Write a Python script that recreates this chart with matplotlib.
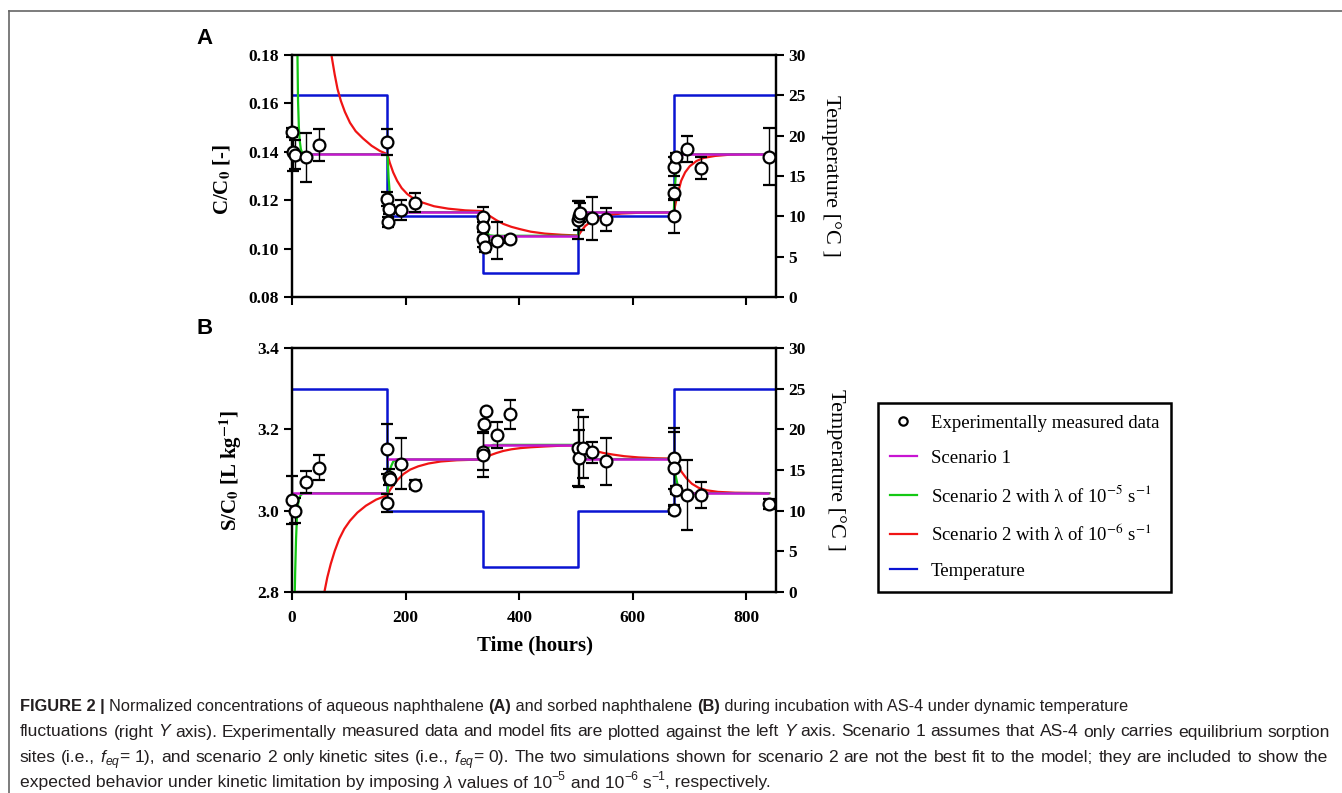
import re
import matplotlib
matplotlib.use('Agg')
import matplotlib.pyplot as plt
from matplotlib.lines import Line2D
from matplotlib.font_manager import FontProperties

plt.rcParams['font.family'] = ['Liberation Serif', 'DejaVu Serif']
plt.rcParams['mathtext.fontset'] = 'stix'

W, H = 1342, 793

# temperature program (right axis, both panels)
temp_t = [0, 168, 336, 504, 672, 852]
temp_c = [25, 10, 3, 10, 25, 25]

# scenario 1 plateaus
s1_start = [0, 168, 336, 504, 672]
s1_end = [168, 336, 504, 672, 840]
a_s1 = [0.139, 0.115, 0.1053, 0.115, 0.139]
b_s1 = [3.043, 3.126, 3.162, 3.127, 3.043]

# ---- panel A: aqueous C/C0, measured
a_t = [0.5, 1.5, 6, 24, 48, 168, 168, 169, 171, 192, 216, 336, 336, 336, 340, 360, 384,
       504, 505, 507, 528, 552, 672, 672, 673, 676, 696, 720, 840]
a_y = [0.148, 0.140, 0.1387, 0.1377, 0.1428, 0.144, 0.1205, 0.1111, 0.1162, 0.116, 0.119,
       0.1132, 0.109, 0.1038, 0.1005, 0.1033, 0.1038, 0.1118, 0.1135, 0.1148, 0.1125, 0.1121,
       0.1135, 0.1231, 0.1338, 0.1377, 0.1412, 0.1334, 0.138]
a_err = [0.002, 0.008, 0.006, 0.010, 0.0066, 0.0055, 0.003, 0.002, 0.002, 0.004, 0.004,
         0.004, 0.002, 0.003, 0.002, 0.0077, 0.0015, 0.008, 0.006, 0.004, 0.009, 0.0048,
         0.007, 0.003, 0.004, 0.002, 0.0053, 0.0045, 0.0117]

# panel A, scenario 2 with lambda 1e-5 (green)
a_g_t = [8.5, 9.5, 10.5, 12, 13.5, 15.5, 18, 24, 168,
         170, 172, 175, 179, 185, 336,
         338, 341, 344, 348, 355, 504,
         505.5, 507, 509, 512, 672,
         674, 676, 678, 681, 688, 840]
a_g_y = [0.19, 0.18, 0.161, 0.150, 0.1445, 0.141, 0.1395, 0.139, 0.139,
         0.129, 0.123, 0.119, 0.1157, 0.1151, 0.115,
         0.111, 0.108, 0.1063, 0.1055, 0.1053, 0.1053,
         0.110, 0.1128, 0.1143, 0.115, 0.115,
         0.125, 0.132, 0.1365, 0.1385, 0.139, 0.139]

# panel A, scenario 2 with lambda 1e-6 (red)
a_r_t = [66, 70, 75, 80, 86, 93, 102, 112, 125, 140, 155, 168,
         172, 178, 185, 193, 203, 215, 230, 250, 275, 305, 336,
         342, 350, 360, 372, 386, 402, 420, 445, 475, 504,
         510, 516, 524, 534, 546, 560, 580, 610, 672,
         676, 680, 685, 692, 700, 712, 725, 745, 770, 800, 840]
a_r_y = [0.186, 0.179, 0.172, 0.166, 0.161, 0.1565, 0.152, 0.1485, 0.1455, 0.1425, 0.1403, 0.139,
         0.1355, 0.1315, 0.128, 0.125, 0.1225, 0.1205, 0.119, 0.1175, 0.1165, 0.1158, 0.1155,
         0.1145, 0.1132, 0.1117, 0.1102, 0.109, 0.108, 0.107, 0.1062, 0.1057, 0.1054,
         0.1075, 0.1093, 0.1108, 0.112, 0.1132, 0.114, 0.1145, 0.1148, 0.115,
         0.1195, 0.1235, 0.128, 0.1315, 0.134, 0.1362, 0.1375, 0.1383, 0.1388, 0.139, 0.139]

# ---- panel B: sorbed S/C0, measured
b_t = [0.5, 6, 24, 48, 168, 171, 173, 168, 192, 216, 336, 338, 342, 337, 360, 384,
       504, 505, 512, 528, 552, 672, 673, 676, 672, 696, 720, 840]
b_y = [3.026, 3.000, 3.071, 3.106, 3.151, 3.0835, 3.078, 3.018, 3.115, 3.064, 3.145, 3.2135,
       3.246, 3.138, 3.186, 3.237, 3.1535, 3.129, 3.155, 3.144, 3.122, 3.129, 3.104, 3.051,
       3.002, 3.038, 3.038, 3.0155]
b_err = [0.058, 0.03, 0.027, 0.031, 0.062, 0.02, 0.01, 0.022, 0.063, 0.012, 0.045, 0.0,
         0.0, 0.055, 0.033, 0.035, 0.094, 0.07, 0.075, 0.026, 0.058, 0.075, 0.09, 0.01,
         0.01, 0.086, 0.032, 0.012]

b_g_t = [4.5, 5.5, 7, 8.5, 10, 12, 15, 20, 168,
         170, 172, 174, 178, 184, 336,
         338, 341, 346, 354, 504,
         507, 510, 513, 518, 672,
         674, 677, 680, 685, 692, 840]
b_g_y = [2.78, 2.85, 2.93, 2.98, 3.01, 3.028, 3.038, 3.043, 3.043,
         3.075, 3.097, 3.108, 3.1205, 3.126, 3.126,
         3.137, 3.147, 3.157, 3.162, 3.162,
         3.15, 3.14, 3.131, 3.127, 3.127,
         3.095, 3.075, 3.055, 3.045, 3.043, 3.043]

b_r_t = [55, 57, 62, 68, 75, 83, 92, 102, 115, 130, 148, 168,
         172, 178, 186, 196, 208, 222, 240, 262, 290, 336,
         342, 350, 360, 372, 386, 402, 420, 445, 475, 504,
         512, 522, 534, 548, 565, 585, 610, 640, 672,
         676, 680, 686, 694, 704, 716, 730, 750, 780, 840]
b_r_y = [2.79, 2.80, 2.835, 2.868, 2.90, 2.93, 2.955, 2.975, 2.995, 3.012, 3.027, 3.038,
         3.050, 3.062, 3.076, 3.090, 3.101, 3.109, 3.116, 3.121, 3.124, 3.126,
         3.131, 3.137, 3.142, 3.147, 3.151, 3.154, 3.156, 3.158, 3.160, 3.161,
         3.157, 3.152, 3.147, 3.142, 3.138, 3.134, 3.131, 3.129, 3.128,
         3.120, 3.108, 3.095, 3.080, 3.066, 3.056, 3.050, 3.046, 3.044, 3.043]

BLUE = '#0a14d2'
MAGENTA = '#c814d2'
GREEN = '#14c814'
RED = '#f01414'

fig = plt.figure(figsize=(W / 100, H / 100), dpi=100)

ax_left = 291.5 / W
ax_w = (776 - 291.5) / W
axA = fig.add_axes([ax_left, 1 - 297 / H, ax_w, (297 - 55) / H])
axB = fig.add_axes([ax_left, 1 - 591.7 / H, ax_w, (591.7 - 348.3) / H])

tick_font = FontProperties(family='Liberation Serif', weight='bold', size=12.5)


def draw_panel(ax, t, y, err, g_t, g_y, r_t, r_y, s1, ylim, yticks, fmt):
    tw = ax.twinx()
    tw.plot(temp_t, temp_c, drawstyle='steps-post', color=BLUE, lw=1.8)
    tw.set_ylim(0, 30)
    tw.set_yticks(range(0, 31, 5))
    ax.set_zorder(tw.get_zorder() + 1)
    ax.patch.set_visible(False)

    ax.plot(r_t, r_y, color=RED, lw=1.6, zorder=2)
    ax.plot(g_t, g_y, color=GREEN, lw=1.6, zorder=2)
    ax.hlines(s1, s1_start, s1_end, color=MAGENTA, lw=1.8, zorder=3)
    ax.errorbar(t, y, yerr=err, fmt='o', ms=8.5, mfc='white', mec='black', mew=1.6,
                ecolor='black', elinewidth=1.0, capsize=4, capthick=1.0, zorder=5,
                clip_on=False)

    ax.set_xlim(-1, 852)
    ax.set_ylim(*ylim)
    ax.set_yticks(yticks)
    ax.set_yticklabels([fmt % v for v in yticks])
    ax.set_xticks([0, 200, 400, 600, 800])
    for a in (ax, tw):
        for sp in a.spines.values():
            sp.set_linewidth(1.6)
        a.tick_params(direction='out', length=6, width=1.5, pad=3)
        for lbl in a.get_yticklabels() + a.get_xticklabels():
            lbl.set_fontproperties(tick_font)
    ax.tick_params(axis='x', pad=7)
    return tw


draw_panel(axA, a_t, a_y, a_err, a_g_t, a_g_y, a_r_t, a_r_y, a_s1,
           (0.08, 0.18), [0.08, 0.10, 0.12, 0.14, 0.16, 0.18], '%.2f')
axA.tick_params(axis='x', labelbottom=False)
draw_panel(axB, b_t, b_y, b_err, b_g_t, b_g_y, b_r_t, b_r_y, b_s1,
           (2.8, 3.4), [2.8, 3.0, 3.2, 3.4], '%.1f')

# axis labels
lab_bold = dict(family='Liberation Serif', weight='bold', size=15)
fig.text(223 / W, 1 - 179 / H, r'C/C$_\mathbf{0}$ [-]', rotation=90, ha='center', va='center', **lab_bold)
fig.text(231 / W, 1 - 470 / H, r'S/C$_\mathbf{0}$ [L kg$^{\mathbf{-1}}$]', rotation=90,
         ha='center', va='center', **lab_bold)
fig.text(831 / W, 1 - 176 / H, 'Temperature [°C ]', rotation=-90, ha='center', va='center',
         family='Liberation Serif', size=16)
fig.text(836 / W, 1 - 470 / H, 'Temperature [°C ]', rotation=-90, ha='center', va='center',
         family='Liberation Serif', size=16)
fig.text(535 / W, 1 - 645 / H, 'Time (hours)', ha='center', va='center', **lab_bold)

fig.text(196 / W, 1 - 38 / H, 'A', ha='left', va='center', family='Liberation Sans',
         weight='bold', size=16)
fig.text(196 / W, 1 - 328 / H, 'B', ha='left', va='center', family='Liberation Sans',
         weight='bold', size=16)

# legend
handles = [Line2D([], [], ls='none', marker='o', ms=6, mfc='white', mec='black', mew=1.6),
           Line2D([], [], color=MAGENTA, lw=1.6),
           Line2D([], [], color=GREEN, lw=1.6),
           Line2D([], [], color=RED, lw=1.6),
           Line2D([], [], color=BLUE, lw=1.6)]
labels = ['Experimentally measured data', 'Scenario 1',
          'Scenario 2 with λ of 10$^{-5}$ s$^{-1}$',
          'Scenario 2 with λ of 10$^{-6}$ s$^{-1}$', 'Temperature']
leg = fig.legend(handles, labels, loc='upper left', bbox_to_anchor=(878 / W, 1 - 403 / H),
                 borderaxespad=0, frameon=True, fancybox=False, edgecolor='black',
                 framealpha=1, borderpad=0.62, labelspacing=0.95, handlelength=1.45,
                 handletextpad=0.75, prop=FontProperties(family='Liberation Serif', size=13.5))
leg.get_frame().set_linewidth(1.8)

# caption
CAP_COLOR = '#231f20'
renderer = fig.canvas.get_renderer()


def advance(s, fp):
    w1 = renderer.get_text_width_height_descent('|' + s + '|', fp, False)[0]
    w2 = renderer.get_text_width_height_descent('||', fp, False)[0]
    return w1 - w2


def caption_line(x, y, runs, size, x_end=None):
    # justified lines are laid out word by word, the others run by run
    tokens = []
    for s, weight, style, kind in runs:
        fs = size * 0.7 if kind != 'n' else size
        dy = 0.0
        if kind == 'sup':
            dy = size * 100 / 72 * 0.4
        elif kind == 'sub':
            dy = -size * 100 / 72 * 0.2
        fp = FontProperties(family='Liberation Sans', size=fs, weight=weight, style=style)
        if x_end is None:
            tokens.append((s, fp, dy))
        else:
            for tok in re.split(r'( )', s):
                if tok:
                    tokens.append((tok, fp, dy))
    extra = 0.0
    if x_end is not None:
        natural = sum(advance(tok, fp) for tok, fp, dy in tokens)
        n_sp = sum(1 for tok, fp, dy in tokens if tok == ' ')
        extra = (x_end - x - natural) / n_sp
    for tok, fp, dy in tokens:
        if tok == ' ':
            x += advance(' ', fp) + extra
            continue
        fig.text(x / W, 1 - (y - dy) / H, tok, fontproperties=fp, color=CAP_COLOR,
                 ha='left', va='baseline')
        x += advance(tok, fp)


N = ('normal', 'normal', 'n')
B = ('bold', 'normal', 'n')
I = ('normal', 'italic', 'n')
IS = ('normal', 'italic', 'sub')
SUP = ('normal', 'normal', 'sup')

cap_lines = [
    [('FIGURE 2 | ',) + B, ('Normalized concentrations of aqueous naphthalene ',) + N, ('(A)',) + B,
     (' and sorbed naphthalene ',) + N, ('(B)',) + B,
     (' during incubation with AS-4 under dynamic temperature',) + N],
    [('fluctuations (right ',) + N, ('Y',) + I,
     (' axis). Experimentally measured data and model fits are plotted against the left ',) + N,
     ('Y',) + I, (' axis. Scenario 1 assumes that AS-4 only carries equilibrium sorption',) + N],
    [('sites (i.e., ',) + N, ('f',) + I, ('eq',) + IS,
     ('= 1), and scenario 2 only kinetic sites (i.e., ',) + N, ('f',) + I, ('eq',) + IS,
     ('= 0). The two simulations shown for scenario 2 are not the best fit to the model; '
      'they are included to show the',) + N],
    [('expected behavior under kinetic limitation by imposing ',) + N, ('λ',) + I,
     (' values of 10',) + N, ('−5',) + SUP, (' and 10',) + N, ('−6',) + SUP, (' s',) + N,
     ('−1',) + SUP, (', respectively.',) + N],
]
cap_sizes = [11.8, 12.6, 12.6, 12.6]
cap_ends = [None, 1330, 1328, None]
for k, runs in enumerate(cap_lines):
    caption_line(20, 711 + k * 25.5, runs, cap_sizes[k], cap_ends[k])

# frame lines of the page (top and left)
fig.add_artist(Line2D([9 / W, 1], [1 - 11 / H, 1 - 11 / H], color='#666666', lw=1.2,
                      transform=fig.transFigure))
fig.add_artist(Line2D([9 / W, 9 / W], [0, 1 - 11 / H], color='#666666', lw=1.2,
                      transform=fig.transFigure))

fig.savefig('out.png', dpi=100)
